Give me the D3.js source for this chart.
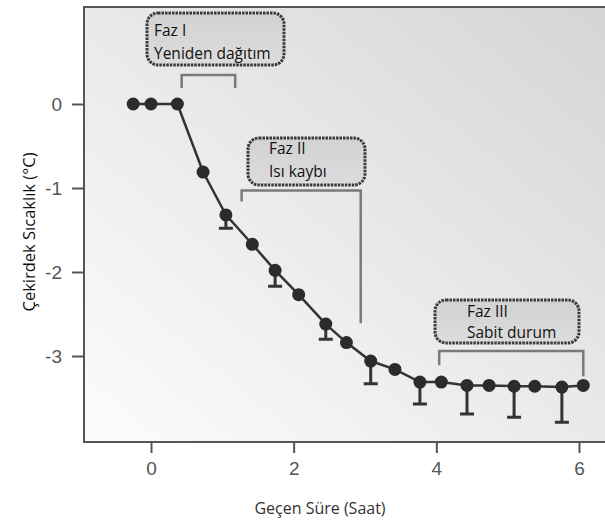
<!DOCTYPE html>
<html>
<head>
<meta charset="utf-8">
<script src="https://cdn.jsdelivr.net/npm/d3@7"></script>
<style>
  body { margin: 0; background: #fff; }
</style>
</head>
<body>
<svg id="drawing_region"></svg>
<script>
// veriler
const hours = [-0.25, 0, 0.37, 0.73, 1.05, 1.42, 1.74, 2.07, 2.45, 2.74, 3.08, 3.42, 3.77, 4.07, 4.43, 4.74, 5.09, 5.38, 5.76, 6.06];
const temps = [0, 0, 0, -0.81, -1.32, -1.67, -1.98, -2.27, -2.62, -2.84, -3.06, -3.16, -3.31, -3.31, -3.35, -3.35, -3.36, -3.36, -3.37, -3.35];
const errLow = [0, 0, 0, 0, 0.16, 0, 0.19, 0, 0.18, 0, 0.27, 0, 0.26, 0, 0.34, 0, 0.37, 0, 0.42, 0];

const xTicks = [0, 2, 4, 6];
const yTicks = [0, -1, -2, -3];

const phaseNames = ['Faz I', 'Faz II', 'Faz III'];
const phaseLabels = ['Yeniden dağıtım', 'Isı kaybı', 'Sabit durum'];
const phaseStart = [0.43, 1.27, 4.04];
const phaseEnd = [1.18, 2.94, 6.06];

var config = {
  parent: '#drawing_region',
  width: 605,
  height: 523,
  frame: {left: 84, top: 7, right: 620, bottom: 442},
  // bracket levels (in y units) and label boxes (px)
  brackets: [
    {top: 0.345, leftEnd: 0.19, rightEnd: 0.19},
    {top: -1.03, leftEnd: -1.16, rightEnd: -2.61},
    {top: -2.94, leftEnd: -3.11, rightEnd: -3.24}
  ],
  boxes: [
    {x: 147, y: 13, w: 137, h: 52, tx: 7, t1: 23, t2: 46},
    {x: 248, y: 138, w: 117, h: 47, tx: 21, t1: 16, t2: 39},
    {x: 435, y: 300, w: 144, h: 43, tx: 32, t1: 17, t2: 38}
  ]
};

class LineChart {

  constructor( config ) {
    this.config = config;
    this.data = hours.map((h, i) => ({x: h, y: temps[i], err: errLow[i]}));
    this.init();
  }

  init(){
    let self = this;
    const f = self.config.frame;

    self.svg = d3.select( self.config.parent )
        .attr('width', self.config.width)
        .attr('height', self.config.height);

    const defs = self.svg.append('defs');
    const grad = defs.append('linearGradient')
        .attr('id', 'bg')
        .attr('x1', 0).attr('y1', 1).attr('x2', 1).attr('y2', 0);
    grad.append('stop').attr('offset', '0%').attr('stop-color', '#fcfcfc');
    grad.append('stop').attr('offset', '45%').attr('stop-color', '#ebebeb');
    grad.append('stop').attr('offset', '100%').attr('stop-color', '#d4d4d4');

    const boxGrad = defs.append('linearGradient')
        .attr('id', 'boxbg')
        .attr('x1', 0).attr('y1', 0).attr('x2', 0).attr('y2', 1);
    boxGrad.append('stop').attr('offset', '0%').attr('stop-color', '#d2d2d2');
    boxGrad.append('stop').attr('offset', '100%').attr('stop-color', '#dcdcdc');

    self.svg.append('rect')
        .attr('x', f.left)
        .attr('y', f.top)
        .attr('width', f.right - f.left)
        .attr('height', f.bottom - f.top)
        .attr('fill', 'url(#bg)')
        .attr('stroke', '#555')
        .attr('stroke-width', 2);

    self.xscale = d3.scaleLinear()
        .domain([0, 6])
        .range([151, 579]);

    self.yscale = d3.scaleLinear()
        .domain([0, -3])
        .range([104, 356]);

    self.xaxis = d3.axisBottom( self.xscale )
        .tickValues(xTicks)
        .tickFormat(d => String(d))
        .tickSize(11)
        .tickPadding(9);
    self.yaxis = d3.axisLeft( self.yscale )
        .tickValues(yTicks)
        .tickFormat(d => String(d))
        .tickSize(12)
        .tickPadding(10);

    self.xaxis_group = self.svg.append('g')
        .attr('transform', `translate(0, ${f.bottom})`);
    self.yaxis_group = self.svg.append('g')
        .attr('transform', `translate(${f.left}, 0)`);

    self.chart = self.svg.append('g');
  }

  render(){
    let self = this;
    const xs = self.xscale, ys = self.yscale;

    [self.xaxis_group.call(self.xaxis), self.yaxis_group.call(self.yaxis)].forEach(g => {
      g.select('.domain').remove();
      g.selectAll('.tick line').attr('stroke', '#555').attr('stroke-width', 2);
      g.selectAll('.tick text')
          .attr('fill', '#555')
          .style('font-family', '"Liberation Sans", Arial, sans-serif')
          .style('font-size', '19px');
    });

    // faz parantezleri
    self.chart.selectAll('.bracket')
        .data(phaseStart)
        .enter()
        .append('path')
        .attr('class', 'bracket')
        .attr('fill', 'none')
        .attr('stroke', '#7a7a7a')
        .attr('stroke-width', 2.5)
        .attr('d', (d, i) => {
          const b = self.config.brackets[i];
          return `M${xs(d)},${ys(b.leftEnd)} V${ys(b.top)} H${xs(phaseEnd[i])} V${ys(b.rightEnd)}`;
        });

    // etiket kutuları
    const boxes = self.chart.selectAll('.phase')
        .data(phaseNames)
        .enter()
        .append('g')
        .attr('class', 'phase')
        .attr('transform', (d, i) => `translate(${self.config.boxes[i].x}, ${self.config.boxes[i].y})`);

    boxes.append('rect')
        .attr('width', (d, i) => self.config.boxes[i].w)
        .attr('height', (d, i) => self.config.boxes[i].h)
        .attr('rx', 11)
        .attr('fill', 'url(#boxbg)')
        .attr('stroke', '#3a3a3a')
        .attr('stroke-width', 3)
        .attr('stroke-dasharray', '2.5,1');

    boxes.append('text')
        .attr('x', (d, i) => self.config.boxes[i].tx)
        .attr('y', (d, i) => self.config.boxes[i].t1)
        .text(d => d);
    boxes.append('text')
        .attr('x', (d, i) => self.config.boxes[i].tx)
        .attr('y', (d, i) => self.config.boxes[i].t2)
        .text((d, i) => phaseLabels[i]);
    boxes.selectAll('text')
        .attr('fill', '#111')
        .style('font-family', '"Open Sans", sans-serif')
        .style('font-size', '15.5px');

    // hata çubukları (yalnız aşağı)
    const withErr = self.data.filter(d => d.err > 0);
    self.chart.selectAll('.err')
        .data(withErr)
        .enter()
        .append('path')
        .attr('class', 'err')
        .attr('fill', 'none')
        .attr('stroke', '#333')
        .attr('stroke-width', 3)
        .attr('d', d => `M${xs(d.x)},${ys(d.y)} V${ys(d.y - d.err)} M${xs(d.x) - 7},${ys(d.y - d.err)} H${xs(d.x) + 7}`);

    const line = d3.line()
        .x(d => xs(d.x))
        .y(d => ys(d.y));

    self.chart.append('path')
        .datum(self.data)
        .attr('fill', 'none')
        .attr('stroke', '#333')
        .attr('stroke-width', 2.5)
        .attr('d', line);

    self.chart.selectAll('circle')
        .data(self.data)
        .enter()
        .append('circle')
        .attr('cx', d => xs(d.x))
        .attr('cy', d => ys(d.y))
        .attr('r', 6.5)
        .attr('fill', '#2b2b2b');

    // eksen başlıkları
    self.svg.append('text')
        .attr('x', 320)
        .attr('y', 514)
        .attr('text-anchor', 'middle')
        .attr('fill', '#333')
        .style('font-family', '"Open Sans", sans-serif')
        .style('font-size', '16px')
        .text('Geçen Süre (Saat)');

    self.svg.append('text')
        .attr('transform', 'translate(35, 232) rotate(-90)')
        .attr('text-anchor', 'middle')
        .attr('fill', '#111')
        .style('font-family', '"Open Sans", sans-serif')
        .style('font-size', '16.5px')
        .text('Çekirdek Sıcaklık (°C)');
  }
}

const chart = new LineChart( config );
chart.render();
</script>
</body>
</html>
